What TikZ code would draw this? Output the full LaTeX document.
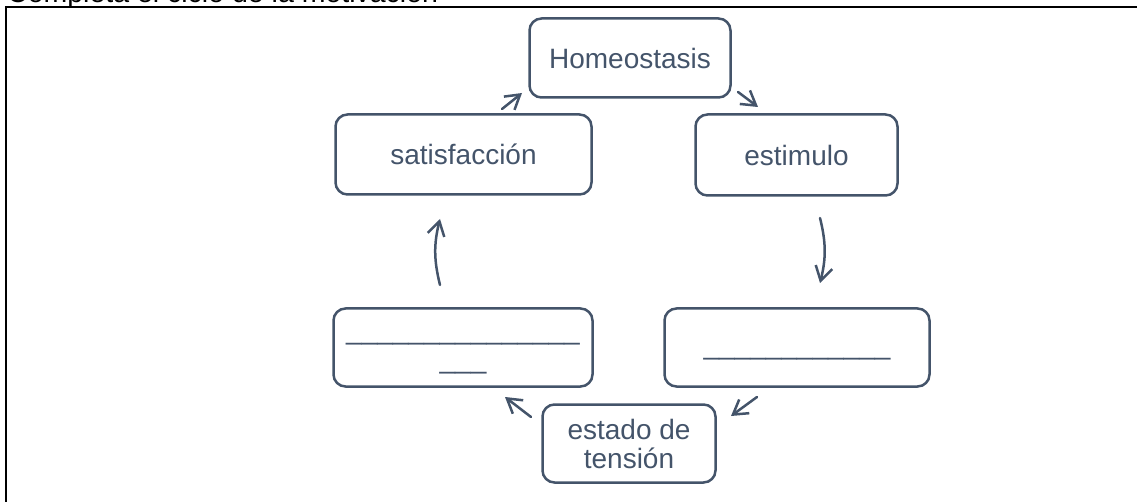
\documentclass[tikz,border=0pt]{standalone}
\usepackage{fontspec}
\setmainfont{Liberation Sans}
\usepackage{tikz}
\usetikzlibrary{arrows.meta}
\definecolor{slate}{HTML}{44546A}

\begin{document}
\begin{tikzpicture}[x=1pt,y=-1pt]
    \tikzstyle{stage} = [draw=slate, line width=2.5pt, rounded corners=12pt, text=slate, align=center, inner sep=0pt, font=\fontsize{28}{29}\selectfont]
    \tikzstyle{cyc} = [draw=slate, line width=2.5pt, line cap=round, -{Straight Barb[length=14pt, width=17pt]}]
    \useasboundingbox (0,0) rectangle (1137,502);
    \clip (0,0) rectangle (1137,502);
    % cell border and heading
    \draw[line width=1.5pt] (6,502) -- (6,7) -- (1137,7);
    \node[anchor=base west, inner sep=0pt, font=\fontsize{28.5}{30}\selectfont] (title) at (7,3) {Completa el ciclo de la motivación};
    % stages
    \node[stage, minimum width=201pt, minimum height=79pt] (home) at (630,58) {Homeostasis};
    \node[stage, minimum width=202pt, minimum height=81pt] (stim) at (796.5,155) {estimulo};
    \node[stage, minimum width=256pt, minimum height=80pt] (satis) at (463.5,154.5) {satisfacción};
    \node[stage, minimum width=259pt, minimum height=78pt] (blankL) at (463,347.5)
        {\vphantom{Ag}\_\_\_\_\_\_\_\_\_\_\_\_\_\_\_\\\vphantom{Ag}\_\_\_};
    \node[stage, minimum width=265pt, minimum height=78pt] (blankR) at (797,347.5)
        {\vphantom{Ag}\_\_\_\_\_\_\_\_\_\_\_\_};
    \node[stage, minimum width=173pt, minimum height=78pt] (tension) at (629,443.5) {estado de\\tensión};
    % arrow ends
    \coordinate (a1) at (502,109);  \coordinate (b1) at (522,93);
    \coordinate (a2) at (738,92);   \coordinate (b2) at (758,107);
    \coordinate (a3) at (820,218);  \coordinate (b3) at (820,283);
    \coordinate (a4) at (757,397);  \coordinate (b4) at (731,416);
    \coordinate (a5) at (531,417);  \coordinate (b5) at (505,397);
    \coordinate (a6) at (440,285);  \coordinate (b6) at (440,219);
    % cycle
    \draw[cyc] (a1) -- (b1);
    \draw[cyc] (a2) -- (b2);
    \draw[cyc] (a3) to[bend left=14] (b3);
    \draw[cyc] (a4) -- (b4);
    \draw[cyc] (a5) -- (b5);
    \draw[cyc] (a6) to[bend left=14] (b6);
\end{tikzpicture}
\end{document}
